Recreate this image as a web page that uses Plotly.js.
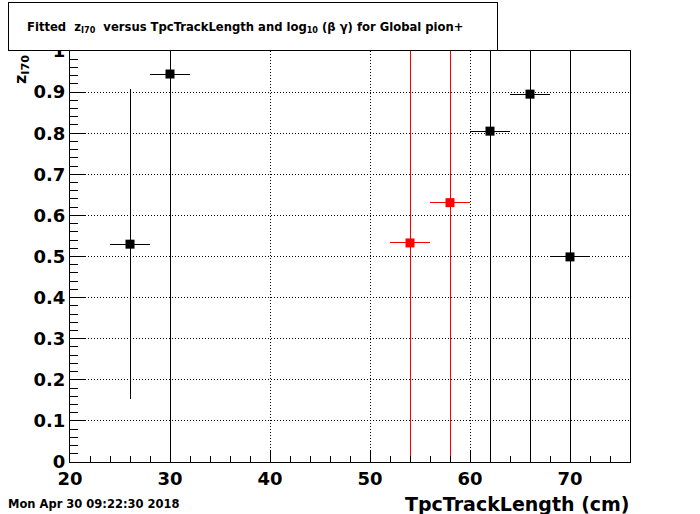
<!DOCTYPE html>
<html>
<head>
<meta charset="utf-8">
<script src="https://cdn.plot.ly/plotly-3.0.1.min.js"></script>
<style>
html,body{margin:0;padding:0;background:#fff;}
#chart{width:700px;height:514px;}
#chart .errorbar path, #chart .gridlayer path, #chart .xtick, #chart .ytick, #chart .shapelayer path, #chart .xlines-above, #chart .ylines-above {shape-rendering: crispEdges;}
</style>
</head>
<body>
<div id="chart"></div>
<script>
// Black points
var blackX = [26, 30, 62, 66, 70];
var blackY = [0.530, 0.944, 0.805, 0.895, 0.499];
var blackErrY = [0.377, 1.5, 1.5, 1.5, 1.5];
var blackErrX = [2, 2, 2, 2, 2];
// Red points
var redX = [54, 58];
var redY = [0.533, 0.631];
var redErrY = [1.5, 1.5];
var redErrX = [2, 2];

var xTickVals = [20, 30, 40, 50, 60, 70];
var yTickVals = [0, 0.1, 0.2, 0.3, 0.4, 0.5, 0.6, 0.7, 0.8, 0.9, 1];
var yTickText = ["0", "0.1", "0.2", "0.3", "0.4", "0.5", "0.6", "0.7", "0.8", "0.9", "1"];

var FONT = "DejaVu Sans, Arial, sans-serif";

function trace(x, y, ex, ey, color) {
  return {
    type: 'scatter', mode: 'markers', x: x, y: y,
    marker: {symbol: 'square', size: 9, color: color},
    error_x: {type: 'data', array: ex, visible: true, color: color, thickness: 1, width: 0},
    error_y: {type: 'data', array: ey, visible: true, color: color, thickness: 1, width: 0},
    showlegend: false, hoverinfo: 'none', cliponaxis: true
  };
}

var data = [
  trace(blackX, blackY, blackErrX, blackErrY, '#000000'),
  trace(redX, redY, redErrX, redErrY, '#ff0000')
];

var layout = {
  width: 700, height: 514,
  paper_bgcolor: '#ffffff', plot_bgcolor: '#ffffff',
  margin: {l: 70, r: 70, t: 51, b: 52, pad: 0},
  showlegend: false,
  xaxis: {
    range: [20, 76], tickmode: 'array', tickvals: xTickVals,
    ticks: 'inside', ticklen: 12, tickwidth: 1, tickcolor: '#000',
    minor: {dtick: 2, tick0: 20, ticklen: 6, ticks: 'inside', tickcolor: '#000', showgrid: false},
    showgrid: true, gridcolor: '#000', griddash: '1px,2px', gridwidth: 1,
    showline: true, linecolor: '#000', linewidth: 1, mirror: true,
    zeroline: false,
    tickfont: {family: FONT, size: 18, color: '#000', weight: 'bold'},
    ticklabelstandoff: 0
  },
  yaxis: {
    range: [0, 1], tickmode: 'array', tickvals: yTickVals, ticktext: yTickText,
    ticks: 'inside', ticklen: 16, tickwidth: 1, tickcolor: '#000',
    minor: {dtick: 0.02, tick0: 0, ticklen: 8, ticks: 'inside', tickcolor: '#000', showgrid: false},
    showgrid: true, gridcolor: '#000', griddash: '1px,2px', gridwidth: 1,
    showline: true, linecolor: '#000', linewidth: 1, mirror: true,
    zeroline: false,
    tickfont: {family: FONT, size: 18, color: '#000', weight: 'bold'},
    ticklabelstandoff: 0
  },
  annotations: [
    {xref: 'paper', yref: 'paper', x: 1, y: 0, xanchor: 'right', yanchor: 'top', yshift: -29, xshift: 2,
     text: 'TpcTrackLength (cm)', showarrow: false,
     font: {family: FONT, size: 19, color: '#000', weight: 'bold'}},
    {xref: 'paper', yref: 'paper', x: 0, y: 1, xanchor: 'right', yanchor: 'top', xshift: -36, yshift: -2,
     text: 'z<sub>I70</sub>', textangle: -90, showarrow: false,
     font: {family: FONT, size: 16, color: '#000', weight: 'bold'}},
    {xref: 'paper', yref: 'paper', x: 0, y: 0, xanchor: 'left', yanchor: 'middle',
     xshift: -64, yshift: -42,
     text: 'Mon Apr 30 09:22:30 2018', showarrow: false,
     font: {family: FONT, size: 11.5, color: '#000', weight: 'bold'}}
  ]
};

// Title box drawn in pixel terms relative to paper
var pw = 560, ph = 411;
function px(x) { return (x - 70) / pw; }
function py(y) { return (462 - y) / ph; }
layout.shapes = [
  {type: 'rect', xref: 'paper', yref: 'paper', x0: px(8), x1: px(497), y0: py(50), y1: py(2),
   line: {color: '#000', width: 1}, fillcolor: '#fff', layer: 'above'}
];
layout.annotations.push({
  xref: 'paper', yref: 'paper', x: px(245), y: py(27), xanchor: 'center', yanchor: 'middle',
  text: 'Fitted  z<sub>I70</sub>  versus TpcTrackLength and log<sub>10</sub> (\u03b2 \u03b3) for Global pion+',
  showarrow: false, font: {family: FONT, size: 11.6, color: '#000', weight: 'bold'}
});

Plotly.newPlot('chart', data, layout, {staticPlot: true, displayModeBar: false});
</script>
</body>
</html>
